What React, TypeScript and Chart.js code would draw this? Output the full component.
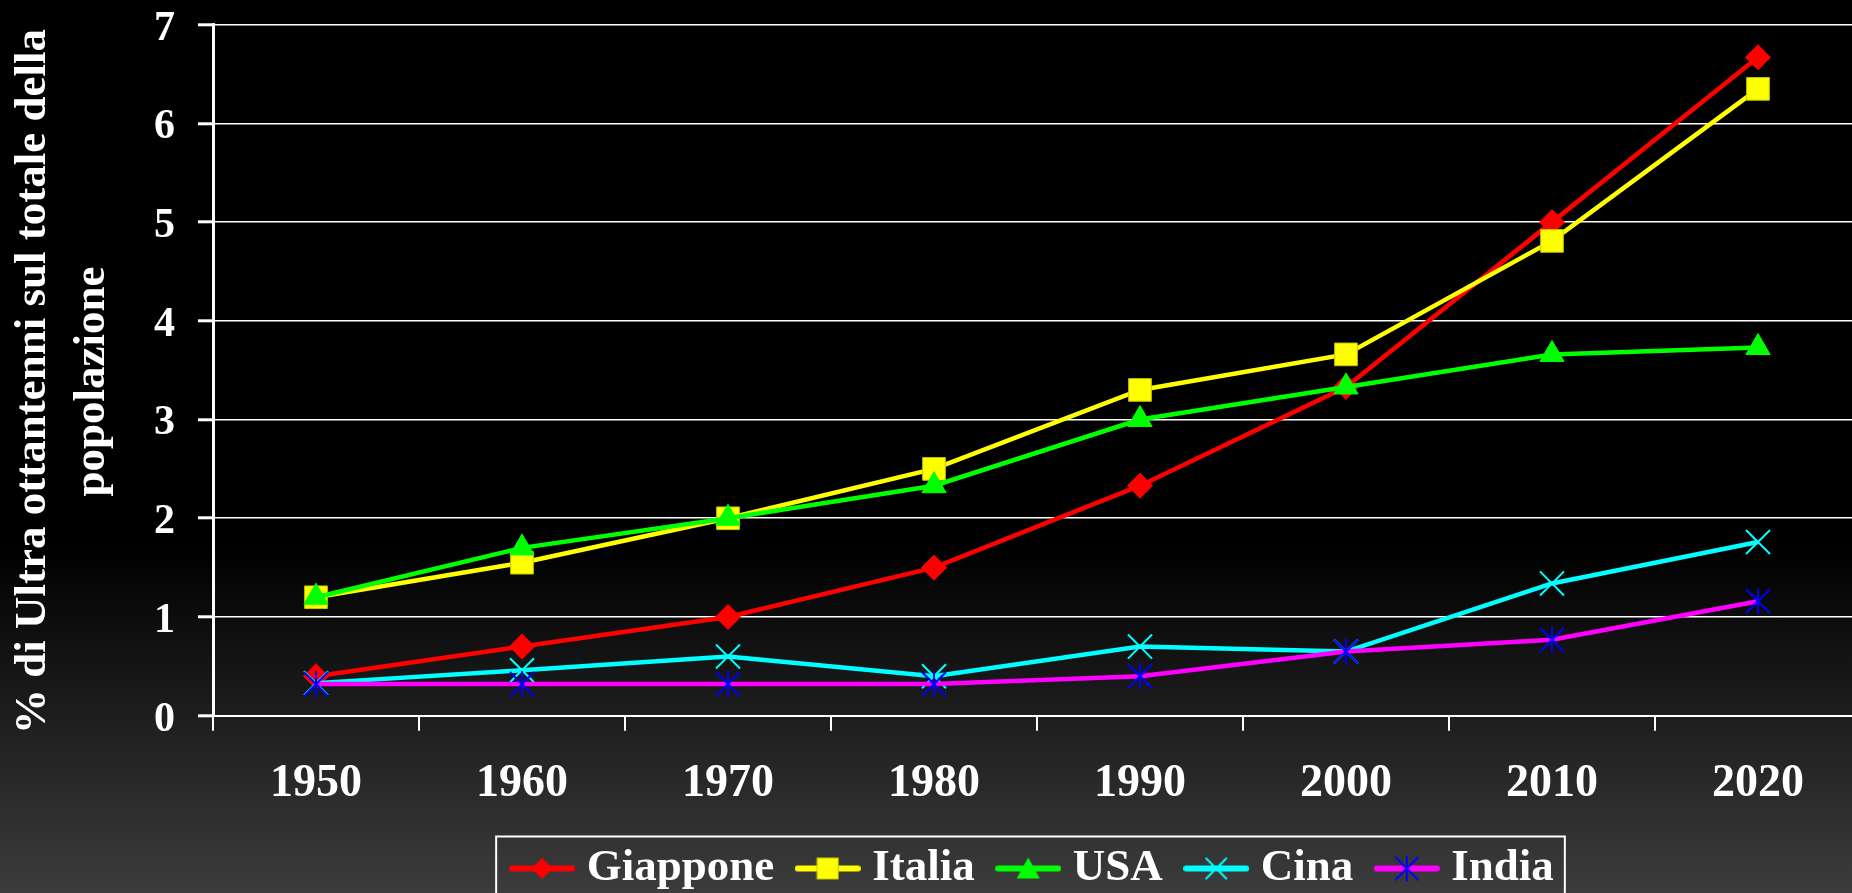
import React, { useEffect, useRef } from "react";
import { Chart, registerables } from "chart.js";

Chart.register(...registerables);

const years = ["1950", "1960", "1970", "1980", "1990", "2000", "2010", "2020"];
const giappone = [0.4, 0.7, 1.0, 1.5, 2.33, 3.33, 5.0, 6.67];
const italia = [1.2, 1.55, 2.0, 2.5, 3.3, 3.66, 4.81, 6.35];
const usa = [1.2, 1.7, 2.0, 2.33, 3.0, 3.33, 3.66, 3.73];
const cina = [0.33, 0.46, 0.6, 0.4, 0.7, 0.65, 1.34, 1.76];
const india = [0.32, 0.32, 0.32, 0.32, 0.4, 0.65, 0.77, 1.16];
const seriesNames = ["Giappone", "Italia", "USA", "Cina", "India"];
const yMin = 0;
const yMax = 7;
const yStep = 1;
const yTitle = ["% di Ultra ottantenni sul totale della", "popolazione"];

const FONT = "'Liberation Serif', 'Times New Roman', serif";

function makeCanvas(w: number, h: number) {
  const c = document.createElement("canvas");
  c.width = w;
  c.height = h;
  return c;
}

type MarkerKind = "diamond" | "square" | "triangle" | "cross" | "star";

function drawMarker(ctx: CanvasRenderingContext2D, kind: MarkerKind, cx: number, cy: number, s: number, fill: string, stroke: string) {
  ctx.save();
  ctx.fillStyle = fill;
  ctx.strokeStyle = stroke;
  ctx.beginPath();
  if (kind === "diamond") {
    ctx.moveTo(cx, cy - s);
    ctx.lineTo(cx + s, cy);
    ctx.lineTo(cx, cy + s);
    ctx.lineTo(cx - s, cy);
    ctx.closePath();
    ctx.fill();
  } else if (kind === "square") {
    ctx.rect(cx - s, cy - s, 2 * s, 2 * s);
    ctx.fill();
    ctx.lineWidth = 1;
    ctx.stroke();
  } else if (kind === "triangle") {
    ctx.moveTo(cx, cy - s);
    ctx.lineTo(cx + s * 1.05, cy + s * 0.9);
    ctx.lineTo(cx - s * 1.05, cy + s * 0.9);
    ctx.closePath();
    ctx.fill();
  } else if (kind === "cross") {
    ctx.lineWidth = 2;
    ctx.moveTo(cx - s, cy - s);
    ctx.lineTo(cx + s, cy + s);
    ctx.moveTo(cx + s, cy - s);
    ctx.lineTo(cx - s, cy + s);
    ctx.stroke();
  } else {
    ctx.lineWidth = 2;
    ctx.moveTo(cx - s, cy - s);
    ctx.lineTo(cx + s, cy + s);
    ctx.moveTo(cx + s, cy - s);
    ctx.lineTo(cx - s, cy + s);
    ctx.moveTo(cx, cy - s - 1);
    ctx.lineTo(cx, cy + s + 1);
    ctx.stroke();
  }
  ctx.restore();
}

function markerImage(kind: MarkerKind, s: number, fill: string, stroke: string) {
  const size = Math.ceil(2 * s + 4);
  const c = makeCanvas(size, size);
  const ctx = c.getContext("2d")!;
  drawMarker(ctx, kind, size / 2, size / 2, s, fill, stroke);
  return c;
}

function legendSample(lineColor: string, kind: MarkerKind, s: number, fill: string, stroke: string) {
  const c = makeCanvas(66, 28);
  const ctx = c.getContext("2d")!;
  ctx.strokeStyle = lineColor;
  ctx.lineWidth = 6;
  ctx.lineCap = "round";
  ctx.beginPath();
  ctx.moveTo(3, 14);
  ctx.lineTo(63, 14);
  ctx.stroke();
  drawMarker(ctx, kind, 33, 14, s, fill, stroke);
  return c;
}

const legendBorder = {
  id: "legendBorder",
  afterDraw(chart: any) {
    const lg = chart.legend;
    if (!lg || !lg.legendHitBoxes || !lg.legendHitBoxes.length) return;
    const hb = lg.legendHitBoxes;
    const first = hb[0];
    const last = hb[hb.length - 1];
    const cy = first.top + first.height / 2;
    const ctx = chart.ctx;
    ctx.save();
    ctx.strokeStyle = "#ffffff";
    ctx.lineWidth = 2;
    const left = first.left - 24;
    const right = last.left + last.width + 11;
    ctx.strokeRect(left, cy - 32, right - left, 80);
    ctx.restore();
  },
};

export default function App() {
  const ref = useRef<HTMLCanvasElement | null>(null);

  useEffect(() => {
    if (!ref.current) return;
    const indiaMarker = markerImage("star", 12, "#0000ff", "#0000ff");
    const legendImgs = [
      legendSample("#ff0000", "diamond", 10.5, "#ff0000", "#ff0000"),
      legendSample("#ffff00", "square", 10.5, "#ffff00", "#c8c800"),
      legendSample("#00ff00", "triangle", 11, "#00ff00", "#00ff00"),
      legendSample("#00ffff", "cross", 10, "#00ffff", "#00ffff"),
      legendSample("#ff00ff", "star", 11, "#0000ff", "#0000ff"),
    ];

    const chart = new Chart(ref.current, {
      type: "line",
      data: {
        labels: years,
        datasets: [
          {
            label: seriesNames[0],
            data: giappone,
            borderColor: "#ff0000",
            backgroundColor: "#ff0000",
            borderWidth: 4.5,
            pointStyle: "rectRot",
            pointRadius: 12.5,
            pointBackgroundColor: "#ff0000",
            pointBorderColor: "#ff0000",
            pointBorderWidth: 1,
            order: 5,
          },
          {
            label: seriesNames[1],
            data: italia,
            borderColor: "#ffff00",
            backgroundColor: "#ffff00",
            borderWidth: 4.5,
            pointStyle: "rect",
            pointRadius: 16,
            pointBackgroundColor: "#ffff00",
            pointBorderColor: "#c8c800",
            pointBorderWidth: 1,
            order: 4,
          },
          {
            label: seriesNames[2],
            data: usa,
            borderColor: "#00ff00",
            backgroundColor: "#00ff00",
            borderWidth: 4.5,
            pointStyle: "triangle",
            pointRadius: 14,
            pointBackgroundColor: "#00ff00",
            pointBorderColor: "#00ff00",
            pointBorderWidth: 1,
            order: 3,
          },
          {
            label: seriesNames[3],
            data: cina,
            borderColor: "#00ffff",
            backgroundColor: "#00ffff",
            borderWidth: 4.5,
            pointStyle: "crossRot",
            pointRadius: 17,
            pointBackgroundColor: "#00ffff",
            pointBorderColor: "#00ffff",
            pointBorderWidth: 2,
            order: 2,
          },
          {
            label: seriesNames[4],
            data: india,
            borderColor: "#ff00ff",
            backgroundColor: "#ff00ff",
            borderWidth: 4.5,
            pointStyle: indiaMarker as any,
            pointRadius: 12,
            pointBackgroundColor: "#0000ff",
            pointBorderColor: "#0000ff",
            pointBorderWidth: 2,
            order: 1,
          },
        ],
      },
      options: {
        responsive: false,
        animation: false,
        events: [],
        layout: { padding: { left: 0, top: 24.7, right: 11, bottom: 0 } },
        scales: {
          x: {
            type: "category",
            offset: true,
            grid: {
              offset: true,
              drawOnChartArea: false,
              drawTicks: true,
              tickLength: 15,
              color: "#ffffff",
              lineWidth: 2,
            },
            border: { display: true, color: "#ffffff", width: 2 },
            ticks: {
              color: "#ffffff",
              padding: 25.7,
              maxRotation: 0,
              autoSkip: false,
              font: { family: FONT, size: 46, weight: "bold" },
            },
            afterFit: (s: any) => {
              s.height = 98.8;
              s.paddingLeft = 0;
              s.paddingRight = 0;
            },
          },
          y: {
            min: yMin,
            max: yMax,
            grid: {
              color: "#ffffff",
              lineWidth: 1.6,
              tickLength: 15,
              tickWidth: 3,
              tickColor: "#ffffff",
            },
            border: { display: true, color: "#ffffff", width: 3 },
            ticks: {
              stepSize: yStep,
              color: "#ffffff",
              padding: 23,
              labelOffset: 4,
              font: { family: FONT, size: 42, weight: "bold", lineHeight: 1 },
            },
            title: {
              display: true,
              text: yTitle.map((t) => t + "\u2002"),
              color: "#ffffff",
              padding: { top: 3.5, bottom: 0 },
              font: { family: FONT, size: 45, weight: "bold", lineHeight: 1.32 },
            },
            afterFit: (s: any) => {
              s.width = 213;
              s.paddingTop = 0;
              s.paddingBottom = 0;
            },
          },
        },
        plugins: {
          tooltip: { enabled: false },
          legend: {
            display: true,
            position: "bottom",
            fullSize: false,
            labels: {
              color: "#ffffff",
              usePointStyle: true,
              pointStyleWidth: 44,
              padding: 31.5,
              font: { family: FONT, size: 45, weight: "bold" },
              sort: (a: any, b: any) => a.datasetIndex - b.datasetIndex,
              generateLabels: (ch: any) => {
                const items = (Chart.defaults.plugins.legend.labels as any).generateLabels(ch);
                items.forEach((it: any) => {
                  it.pointStyle = legendImgs[it.datasetIndex];
                  it.rotation = 0;
                  it.fontColor = "#ffffff";
                });
                return items;
              },
            },
          },
        },
      } as any,
      plugins: [legendBorder],
    });
    return () => chart.destroy();
  }, []);

  return (
    <div
      style={{
        position: "fixed",
        left: 0,
        top: 0,
        width: 1852,
        height: 893,
        overflow: "hidden",
        background: "linear-gradient(to bottom, #000000 0%, #000000 61%, #3c3c3c 100%)",
      }}
    >
      <canvas ref={ref} width={1880} height={901} style={{ width: 1880, height: 901, display: "block" }} />
    </div>
  );
}
